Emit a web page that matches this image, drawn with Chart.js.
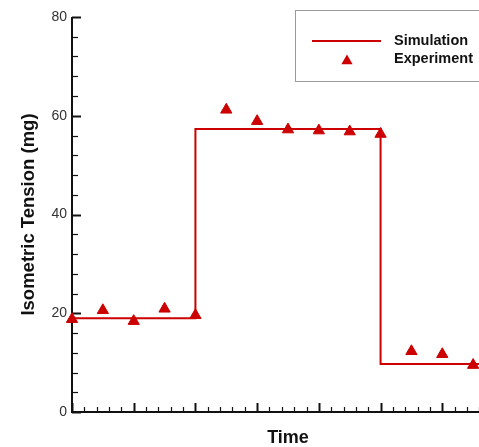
<!DOCTYPE html>
<html>
<head>
<meta charset="utf-8">
<script src="https://cdn.jsdelivr.net/npm/chart.js@4/dist/chart.umd.min.js"></script>
<style>
  html, body { margin: 0; padding: 0; background: #fff; overflow: hidden; }
  #wrap { width: 504px; height: 447px; }
</style>
</head>
<body>
<div id="wrap"><canvas id="c" width="504" height="447"></canvas></div>
<script>
// Simulated isometric tension: level changes at t = 2 and t = 5
const simTime = [0, 2, 5, 7];
const simTension = [19.0, 57.3, 9.7, 9.7];

// Measured tension, sampled every half time unit
const expTime = [0, 0.5, 1, 1.5, 2, 2.5, 3, 3.5, 4, 4.5, 5, 5.5, 6, 6.5];
const expTension = [18.8, 20.6, 18.4, 20.9, 19.6, 61.2, 58.9, 57.2, 57.0, 56.8, 56.3, 12.3, 11.7, 9.5];

const seriesNames = ['Simulation', 'Experiment'];
const yTicks = [0, 20, 40, 60, 80];
const xRange = [0, 7];

const RED = '#cc0000';
const FONT = '"Liberation Sans", Arial, Helvetica, sans-serif';

// Inward-pointing major/minor tick marks on both axes
const inwardTicks = {
  id: 'inwardTicks',
  beforeDatasetsDraw(chart) {
    const { ctx, chartArea, scales } = chart;
    const xs = scales.x, ys = scales.y;
    ctx.save();
    ctx.strokeStyle = '#111';
    ctx.lineCap = 'butt';
    // y ticks: major every 20, minor every 4
    for (let v = ys.min; v <= ys.max + 1e-9; v += 4) {
      const major = Math.abs(v % 20) < 1e-9;
      const py = Math.round(ys.getPixelForValue(v)) + 0.5;
      ctx.lineWidth = major ? 2 : 1.2;
      ctx.beginPath();
      ctx.moveTo(chartArea.left, py);
      ctx.lineTo(chartArea.left + (major ? 9 : 6), py);
      ctx.stroke();
    }
    // x ticks: major every 1, minor every 0.2
    for (let i = 0; i <= Math.round((xs.max - xs.min) * 5); i++) {
      const v = xs.min + i * 0.2;
      const major = i % 5 === 0;
      const px = Math.round(xs.getPixelForValue(v)) + 0.5;
      ctx.lineWidth = major ? 2 : 1.2;
      ctx.beginPath();
      ctx.moveTo(px, chartArea.bottom);
      ctx.lineTo(px, chartArea.bottom - (major ? 9 : 5));
      ctx.stroke();
    }
    // axis lines
    ctx.lineWidth = 2;
    ctx.beginPath();
    ctx.moveTo(chartArea.left, chartArea.top);
    ctx.lineTo(chartArea.left, chartArea.bottom);
    ctx.lineTo(chartArea.right, chartArea.bottom);
    ctx.stroke();
    ctx.restore();
  }
};

// Boxed legend in the upper right
const boxLegend = {
  id: 'boxLegend',
  afterDraw(chart) {
    const { ctx } = chart;
    ctx.save();
    ctx.fillStyle = '#fff';
    ctx.fillRect(295.5, 10.5, 230, 71);
    ctx.strokeStyle = '#9a9a9a';
    ctx.lineWidth = 1;
    ctx.strokeRect(295.5, 10.5, 230, 71);
    // line sample
    ctx.strokeStyle = RED;
    ctx.lineWidth = 2;
    ctx.beginPath();
    ctx.moveTo(312, 41);
    ctx.lineTo(381, 41);
    ctx.stroke();
    // triangle sample
    const r = 6.5, cx = 347, cy = 61;
    ctx.fillStyle = RED;
    ctx.beginPath();
    ctx.moveTo(cx, cy - r);
    ctx.lineTo(cx + r * Math.sin(Math.PI * 2 / 3), cy + r / 2);
    ctx.lineTo(cx - r * Math.sin(Math.PI * 2 / 3), cy + r / 2);
    ctx.closePath();
    ctx.fill();
    // labels
    ctx.fillStyle = '#111';
    ctx.font = 'bold 14.5px ' + FONT;
    ctx.textBaseline = 'middle';
    ctx.textAlign = 'left';
    ctx.fillText(seriesNames[0], 394, 41);
    ctx.fillText(seriesNames[1], 394, 59);
    ctx.restore();
  }
};

new Chart(document.getElementById('c'), {
  type: 'scatter',
  data: {
    datasets: [
      {
        label: seriesNames[0],
        data: simTime.map((t, i) => ({ x: t, y: simTension[i] })),
        showLine: true,
        stepped: true,
        borderColor: RED,
        borderWidth: 2,
        pointRadius: 0,
        fill: false
      },
      {
        label: seriesNames[1],
        data: expTime.map((t, i) => ({ x: t, y: expTension[i] })),
        showLine: false,
        pointStyle: 'triangle',
        pointRadius: 6.5,
        pointBackgroundColor: RED,
        pointBorderColor: RED,
        pointBorderWidth: 1,
        clip: false
      }
    ]
  },
  options: {
    responsive: false,
    animation: false,
    layout: { autoPadding: false, padding: { top: 17, left: 0, right: 0, bottom: 0 } },
    plugins: {
      legend: { display: false },
      tooltip: { enabled: false }
    },
    scales: {
      x: {
        type: 'linear',
        min: xRange[0],
        max: xRange[1],
        grid: { display: false, drawTicks: false },
        border: { display: false },
        ticks: { display: false },
        title: {
          display: true,
          text: 'Time',
          color: '#111',
          font: { family: FONT, size: 18, weight: 'bold' },
          padding: { top: 0, bottom: -2 }
        },
        afterFit(scale) { scale.height = 35; }
      },
      y: {
        min: yTicks[0],
        max: yTicks[yTicks.length - 1],
        afterBuildTicks(scale) { scale.ticks = yTicks.map(v => ({ value: v })); },
        grid: { display: false, drawTicks: false },
        border: { display: false },
        ticks: {
          color: '#333',
          padding: 5,
          font: { family: FONT, size: 14 }
        },
        title: {
          display: true,
          text: 'Isometric Tension (mg)',
          color: '#111',
          font: { family: FONT, size: 18.5, weight: 'bold' },
          padding: { top: 18, bottom: 0 }
        },
        afterFit(scale) { scale.width = 72; }
      }
    }
  },
  plugins: [inwardTicks, boxLegend]
});
</script>
</body>
</html>
